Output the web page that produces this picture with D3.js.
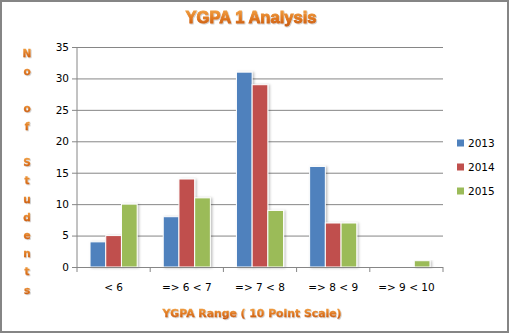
<!DOCTYPE html>
<html>
<head>
<meta charset="utf-8">
<script src="https://cdn.jsdelivr.net/npm/d3@7"></script>
<style>
  html, body { margin: 0; padding: 0; background: #fff; }
  svg { display: block; }
</style>
</head>
<body>
<svg id="chart" width="510" height="334"></svg>
<script>
// GPA distribution per range, one array per year
const categories = ["< 6", "=> 6 < 7", "=> 7 < 8", "=> 8 < 9", "=> 9 < 10"];
const years = ["2013", "2014", "2015"];
const values2013 = [4, 8, 31, 16, 0];
const values2014 = [5, 14, 29, 7, 0];
const values2015 = [10, 11, 9, 7, 1];
const yTicks = [0, 5, 10, 15, 20, 25, 30, 35];
const colors = ["#4F81BD", "#C0504D", "#9BBB59"];

const series = [values2013, values2014, values2015];

const svg = d3.select("#chart");
const W = 510, H = 334;
const plot = { left: 77, right: 443, top: 47, bottom: 267 };

const defs = svg.append("defs");
const grad = defs.append("linearGradient")
  .attr("id", "orangeGrad").attr("x1", 0).attr("y1", 0).attr("x2", 0).attr("y2", 1);
grad.append("stop").attr("offset", "0%").attr("stop-color", "#F5A94A");
grad.append("stop").attr("offset", "55%").attr("stop-color", "#E07820");
grad.append("stop").attr("offset", "100%").attr("stop-color", "#C4560F");

const shadow = defs.append("filter").attr("id", "barShadow")
  .attr("x", "-20%").attr("y", "-10%").attr("width", "160%").attr("height", "130%");
shadow.append("feDropShadow").attr("dx", 1.5).attr("dy", 0.5)
  .attr("stdDeviation", 1.2).attr("flood-color", "#000").attr("flood-opacity", 0.25);

const textShadow = defs.append("filter").attr("id", "textShadow")
  .attr("x", "-10%").attr("y", "-20%").attr("width", "120%").attr("height", "150%");
textShadow.append("feDropShadow").attr("dx", 0.8).attr("dy", 0.8)
  .attr("stdDeviation", 0.6).attr("flood-color", "#000").attr("flood-opacity", 0.25);

// outer frame
svg.append("rect")
  .attr("x", 1).attr("y", 1).attr("width", W - 3).attr("height", H - 3)
  .attr("fill", "#fff").attr("stroke", "#858585").attr("stroke-width", 2);

const x0 = d3.scaleBand().domain(categories).range([plot.left, plot.right]).padding(0);
const bw = x0.bandwidth();
const x1 = d3.scaleBand().domain(years).range([bw * 0.178, bw * 0.822]).padding(0);
const y = d3.scaleLinear().domain([0, 35]).range([plot.bottom, plot.top]);

// gridlines + y axis
const yAxis = d3.axisLeft(y).tickValues(yTicks).tickSize(-(plot.right - plot.left)).tickPadding(8);
const gy = svg.append("g").attr("transform", `translate(${plot.left},0)`).call(yAxis);
gy.select(".domain").remove();
gy.selectAll(".tick line").attr("stroke", "#868686").attr("stroke-width", 1).attr("x1", -5);
gy.selectAll(".tick text")
  .attr("font-family", "DejaVu Sans, sans-serif").attr("font-size", 10.5).attr("fill", "#000");
svg.append("line")
  .attr("x1", plot.left).attr("x2", plot.left)
  .attr("y1", plot.top).attr("y2", plot.bottom)
  .attr("stroke", "#868686");

// bars
const groups = svg.append("g").selectAll("g")
  .data(categories)
  .join("g")
  .attr("transform", d => `translate(${x0(d)},0)`);

groups.selectAll("rect")
  .data((c, i) => years.map((yr, s) => ({ yr, s, v: series[s][i] })).filter(d => d.v > 0))
  .join("rect")
  .attr("x", d => x1(d.yr))
  .attr("width", x1.bandwidth())
  .attr("y", d => y(d.v))
  .attr("height", d => y(0) - y(d.v))
  .attr("fill", d => colors[d.s])
  .attr("stroke", "#fff").attr("stroke-width", 1)
  .attr("filter", "url(#barShadow)");

// x axis
const xAxis = d3.axisBottom(x0).tickSize(0).tickPadding(17);
const gx = svg.append("g").attr("transform", `translate(0,${plot.bottom})`).call(xAxis);
gx.select(".domain").attr("stroke", "#868686").attr("d", `M${plot.left},0.5H${plot.right}`);
gx.selectAll(".tick text")
  .attr("font-family", "DejaVu Sans, sans-serif").attr("font-size", 10.5).attr("fill", "#000");
const bounds = categories.map(c => x0(c)).concat([plot.right]);
gx.selectAll(".bound").data(bounds).join("line")
  .attr("x1", d => d).attr("x2", d => d).attr("y1", 0).attr("y2", 5)
  .attr("stroke", "#868686");

// title
svg.append("text")
  .attr("x", 251).attr("y", 23)
  .attr("text-anchor", "middle")
  .attr("font-family", "Liberation Sans, Arial, sans-serif")
  .attr("font-weight", "bold").attr("font-size", 17)
  .attr("textLength", 131).attr("lengthAdjust", "spacingAndGlyphs")
  .attr("fill", "url(#orangeGrad)")
  .attr("stroke", "url(#orangeGrad)").attr("stroke-width", 0.9)
  .attr("filter", "url(#textShadow)")
  .text("YGPA 1 Analysis");

// x axis title
svg.append("text")
  .attr("x", 252).attr("y", 317)
  .attr("text-anchor", "middle")
  .attr("font-family", "DejaVu Sans, sans-serif")
  .attr("font-weight", "bold").attr("font-size", 10.5)
  .attr("textLength", 179).attr("lengthAdjust", "spacingAndGlyphs")
  .attr("fill", "url(#orangeGrad)")
  .attr("stroke", "url(#orangeGrad)").attr("stroke-width", 0.3)
  .attr("filter", "url(#textShadow)")
  .text("YGPA Range ( 10 Point Scale)");

// y axis title, stacked letters
const yTitle = "No of Students".split("");
svg.append("g").selectAll("text")
  .data(yTitle)
  .join("text")
  .attr("x", 27)
  .attr("y", (d, i) => 57 + i * 18.2)
  .attr("text-anchor", "middle")
  .attr("font-family", "DejaVu Sans, sans-serif")
  .attr("font-weight", "bold").attr("font-size", 10.5)
  .attr("fill", "url(#orangeGrad)")
  .attr("stroke", "url(#orangeGrad)").attr("stroke-width", 0.3)
  .attr("filter", "url(#textShadow)")
  .text(d => d);

// legend
const legend = svg.append("g").selectAll("g")
  .data(years)
  .join("g")
  .attr("transform", (d, i) => `translate(457,${143 + i * 24})`);
legend.append("rect")
  .attr("x", 0).attr("y", -3.5).attr("width", 7).attr("height", 7)
  .attr("fill", (d, i) => colors[i]);
legend.append("text")
  .attr("x", 11).attr("y", 4)
  .attr("font-family", "DejaVu Sans, sans-serif").attr("font-size", 10.5)
  .attr("fill", "#000")
  .text(d => d);
</script>
</body>
</html>
